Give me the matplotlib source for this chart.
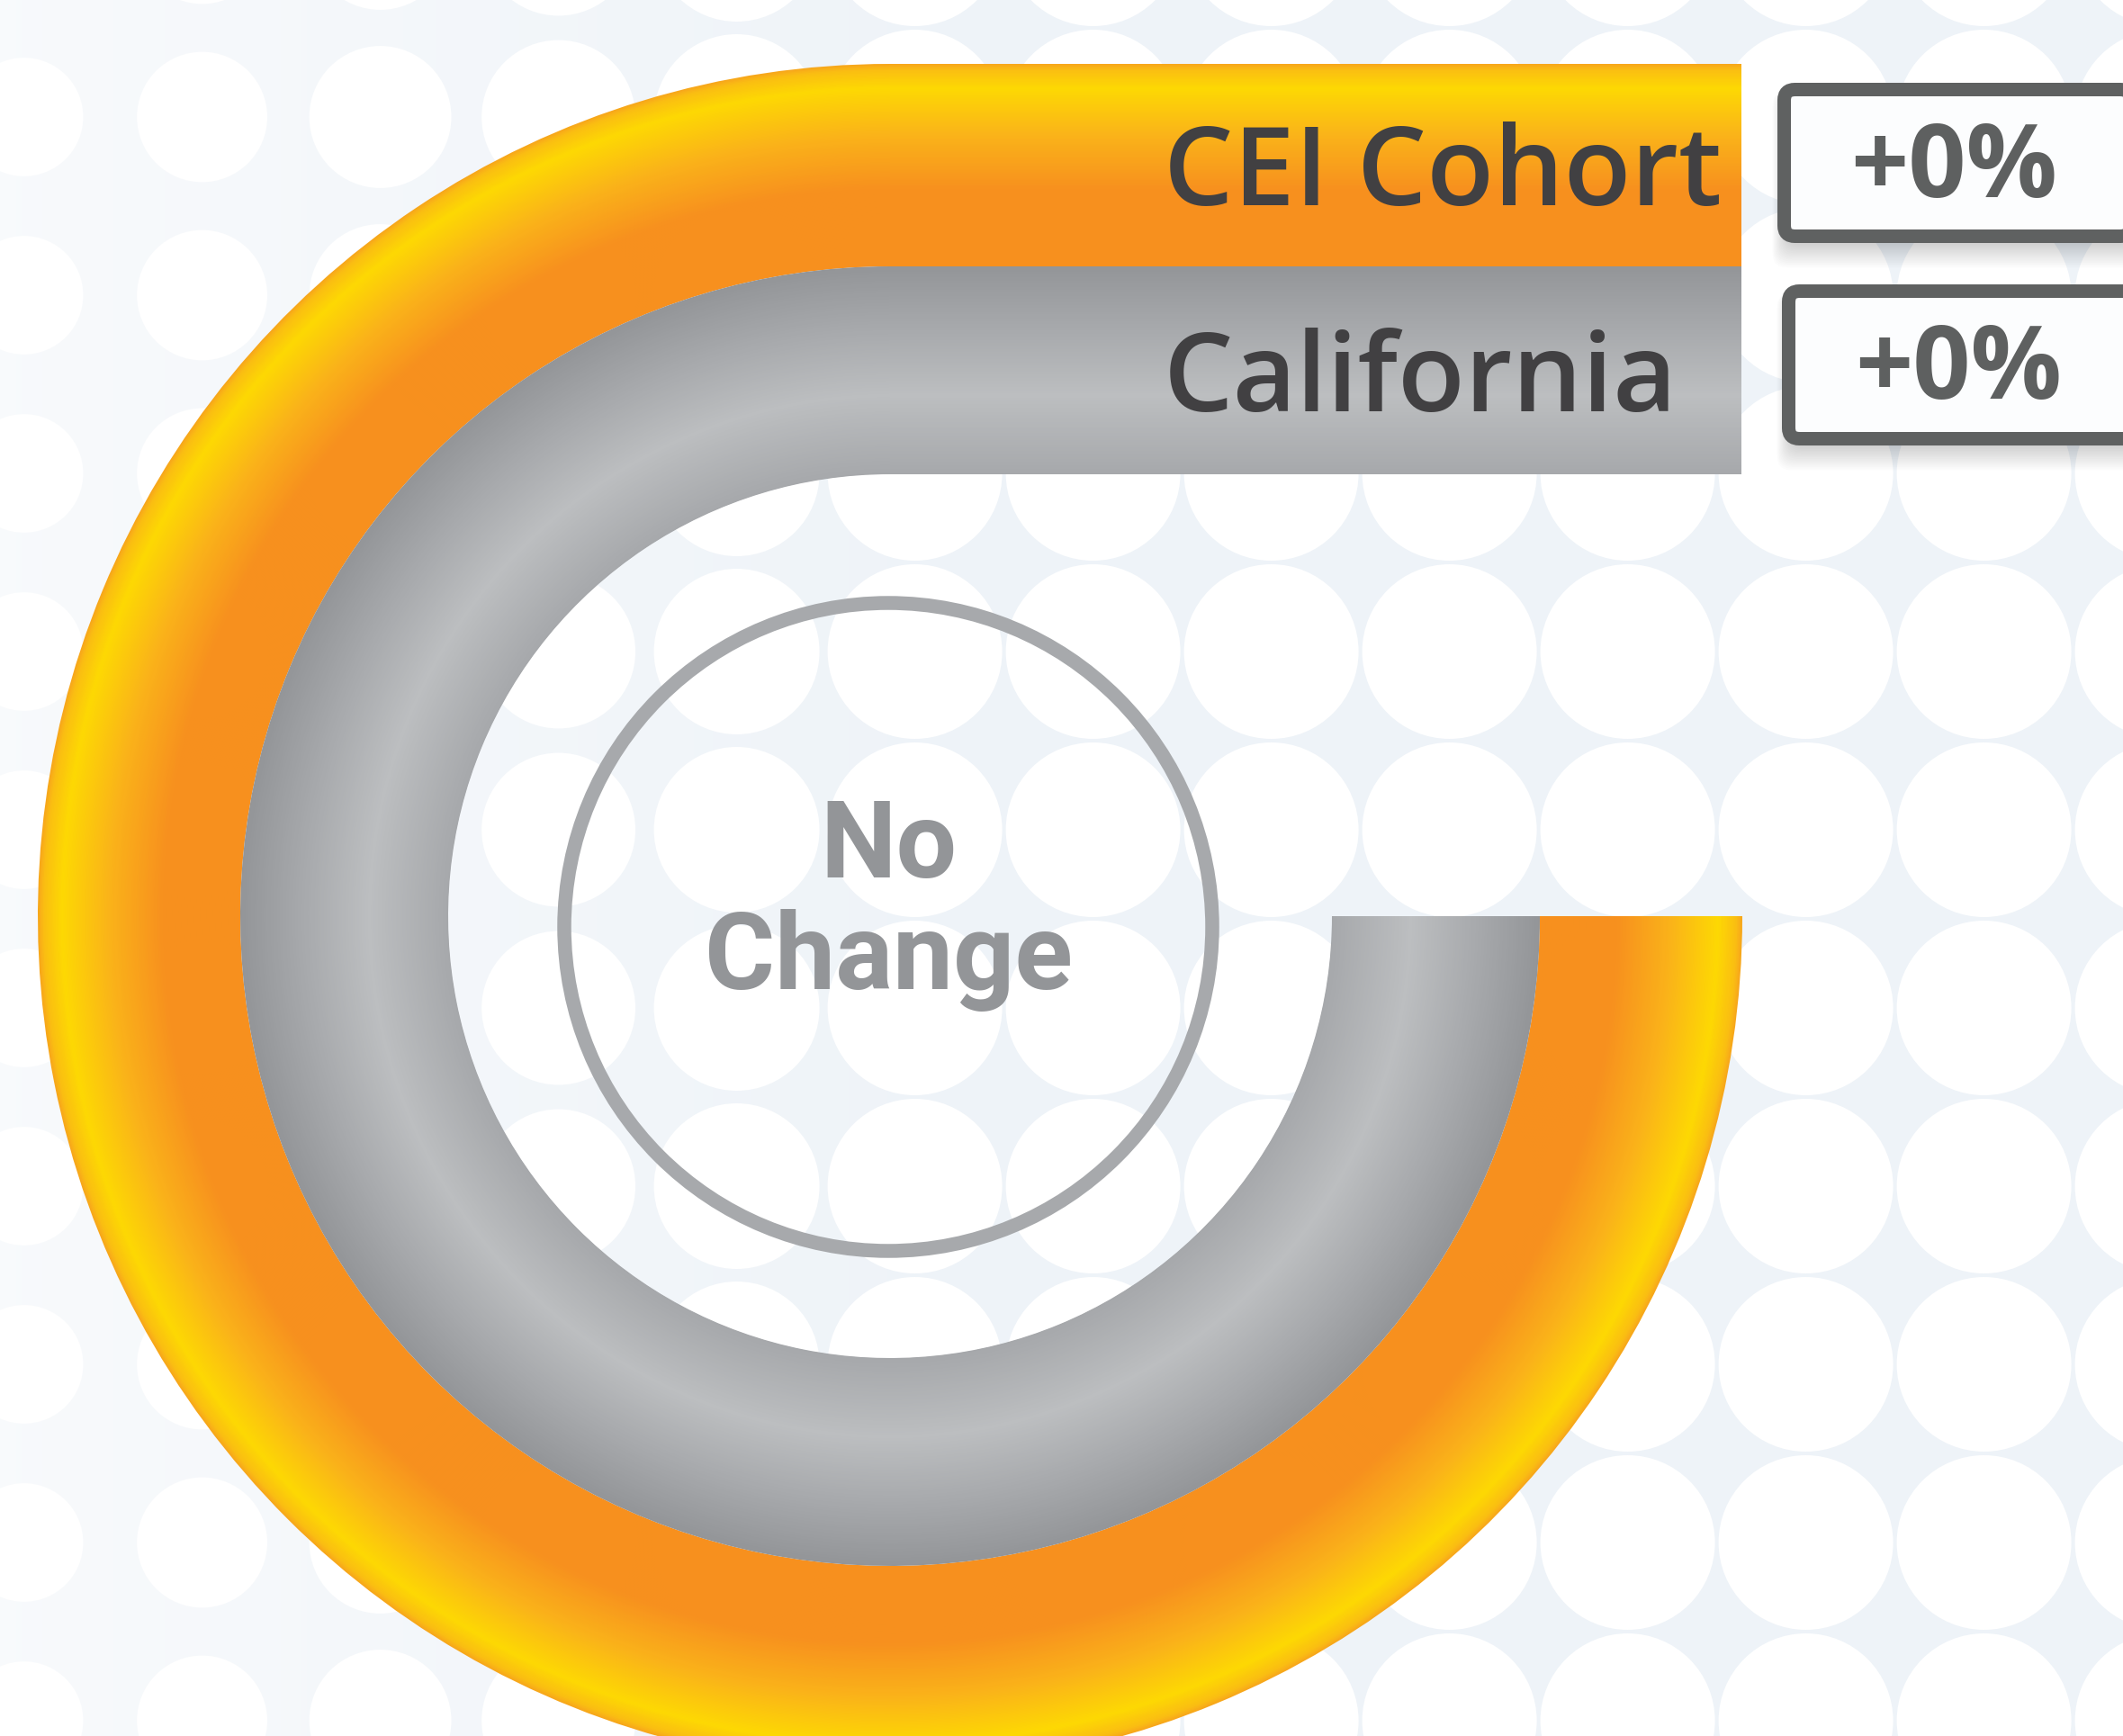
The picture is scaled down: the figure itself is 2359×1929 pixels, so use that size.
import numpy as np
import matplotlib
matplotlib.use("Agg")
import matplotlib.pyplot as plt
from matplotlib.patches import Wedge, Rectangle, Circle, FancyBboxPatch
from matplotlib.colors import to_rgb

# ---------------- data ----------------
categories = ["CEI Cohort", "California"]
pct_change = [0, 0]
value_labels = ["+0%", "+0%"]
center_label = ["No", "Change"]

# ---------------- layout / style ----------------
W, H = 2359, 1929
cx, cy = 989, 1018
band_radii = [(947, 722), (722, 491)]
bar_end_x = 1935
sweep_deg = 270

orange_stops = [(0.0, "#F7A41C"), (0.03, "#FABE12"), (0.12, "#FDD803"),
                (0.35, "#FAB319"), (0.62, "#F7901E"), (1.0, "#F7901E")]
gray_stops = [(0.0, "#939598"), (0.3, "#A7A9AC"), (0.62, "#BCBEC0"), (1.0, "#A6A8AB")]
band_stops = [orange_stops, gray_stops]


def grad_color(stops, s):
    pos = [p for p, _ in stops]
    cols = np.array([to_rgb(c) for _, c in stops])
    return tuple(np.interp(s, pos, cols[:, i]) for i in range(3))


fig = plt.figure(figsize=(W / 100, H / 100), dpi=100)
ax = fig.add_axes([0, 0, 1, 1])
ax.set_facecolor("#EEF3F8")
fig.patch.set_facecolor("#EEF3F8")

# background dot pattern
for xc in np.arange(26.6, W + 200, 198):
    for yc in np.arange(-68, H + 200, 198):
        r = min(97.0, 65 + 0.033 * xc)
        ax.add_patch(Circle((xc, yc), r, facecolor="white", edgecolor="none", zorder=1))

# left fade overlay
xs = np.linspace(0, W, 300)
alpha = np.clip(0.6 * (1 - xs / 1100), 0, 1)
rgba = np.ones((4, 300, 4))
rgba[..., 3] = alpha[None, :]
ax.imshow(rgba, extent=(0, W, H, 0), aspect="auto", zorder=2, interpolation="bilinear")

# gradient bands (arc + straight bar)
N = 160
for (r_out, r_in), stops in zip(band_radii, band_stops):
    dr = (r_out - r_in) / N
    for k in range(N):
        s = (k + 0.5) / N
        col = grad_color(stops, s)
        r_k = r_out - k * dr
        w = dr + (0.9 if k < N - 1 else 0)
        ax.add_patch(Wedge((cx, cy), r_k, 0, sweep_deg, width=w,
                           facecolor=col, edgecolor="none", lw=0, zorder=3))
        ax.add_patch(Rectangle((cx - 1.5, cy - r_k), bar_end_x - cx + 1.5, w,
                               facecolor=col, edgecolor="none", lw=0, zorder=3))

# category labels
label_y = [228, 457]
for name, y in zip(categories, label_y):
    ax.text(1293, y, name, fontsize=88, family=["Open Sans", "DejaVu Sans"],
            fontweight="semibold", color="#414042", ha="left", va="baseline", zorder=6)

# value boxes
boxes = [(1982.5, 99.5, 2368, 262.5), (1987.5, 323.5, 2375, 487.5)]
val_pos = [(2171, 219), (2176, 443)]
for (x0, y0, x1, y1), lab, (tx, ty) in zip(boxes, value_labels, val_pos):
    for j in range(16):
        ax.add_patch(FancyBboxPatch((x0 + 2 - j, y0 + 8 - j * 0.4), x1 - x0 + 2 * j, y1 - y0 + 2.2 * j,
                                    boxstyle="round,pad=0,rounding_size=16",
                                    facecolor="black", edgecolor="none", alpha=0.012, zorder=4))
    ax.add_patch(FancyBboxPatch((x0, y0), x1 - x0, y1 - y0,
                                boxstyle="round,pad=0,rounding_size=12",
                                facecolor="#FCFDFE", edgecolor="#5F6161",
                                lw=15 * 0.72, zorder=5))
    ax.text(tx, ty, lab, fontsize=81, family=["Open Sans", "DejaVu Sans"],
            fontweight="bold", color="#5E6060", ha="center", va="baseline", zorder=6)

# centre ring and label
ax.add_patch(Circle((987, 1030), 360, fill=False, edgecolor="#A7A9AC",
                    lw=15.5 * 0.72, zorder=5))
for txt, y in zip(center_label, [975, 1099]):
    ax.text(987, y, txt, fontsize=86, family=["Roboto", "DejaVu Sans"], fontweight="bold",
            color="#939598", ha="center", va="baseline", zorder=6)

ax.set_xlim(0, W)
ax.set_ylim(H, 0)
ax.axis("off")
fig.savefig("out.png", dpi=100, facecolor=fig.get_facecolor())
